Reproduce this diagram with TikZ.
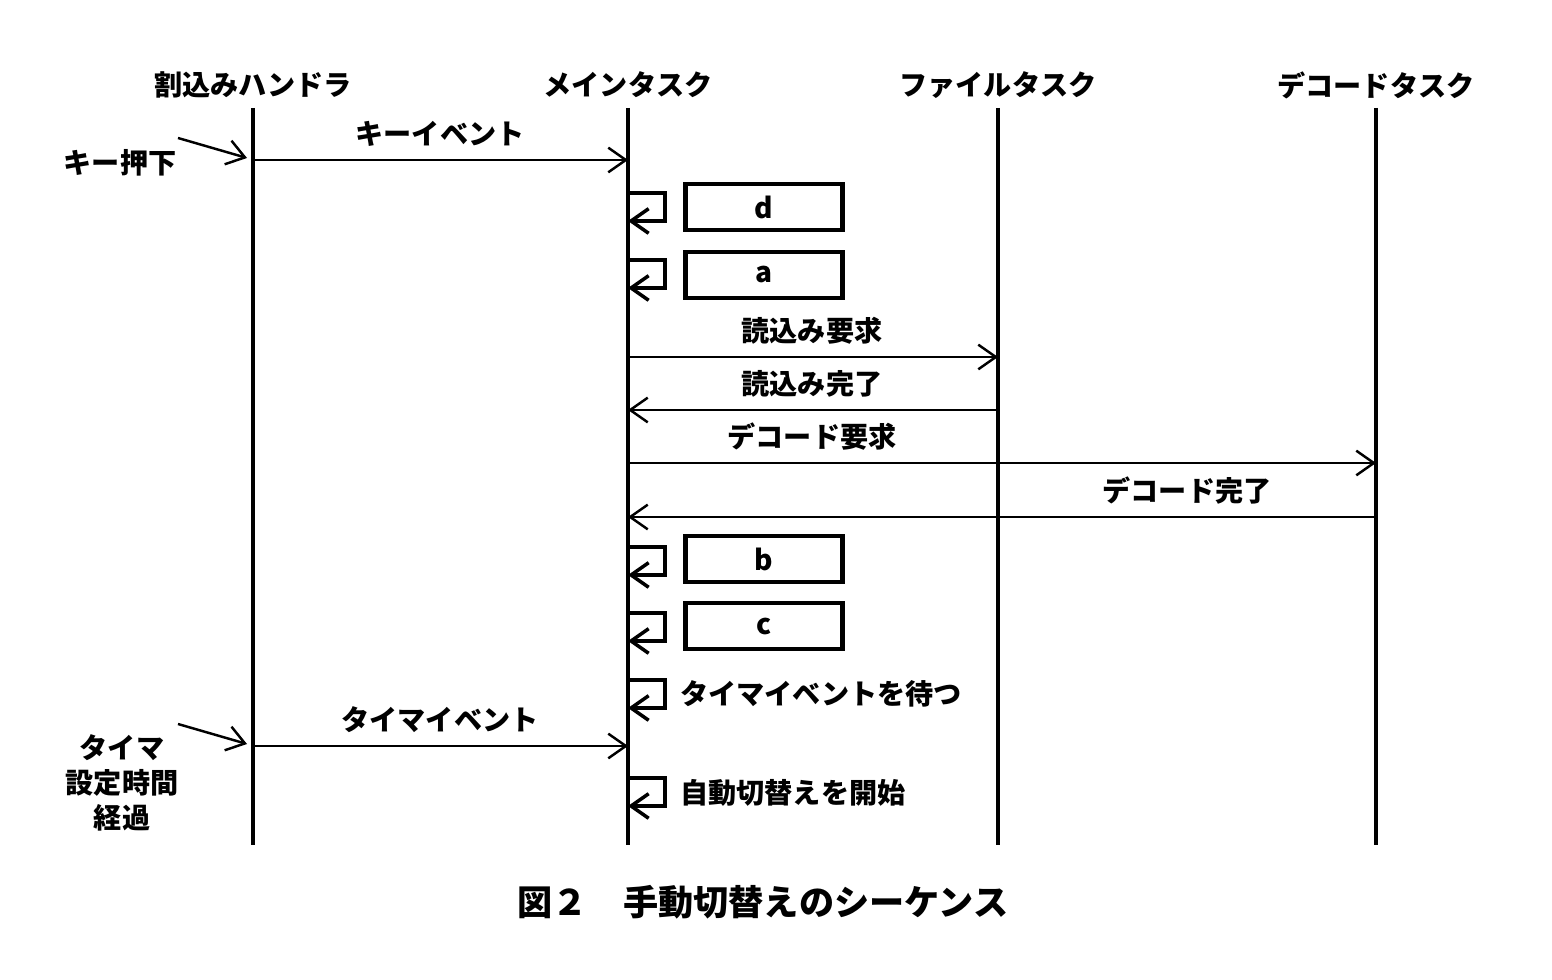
\documentclass[tikz,border=0pt]{standalone}
\usepackage{fontspec}
\setmainfont{Noto Sans CJK JP}
\usetikzlibrary{arrows.meta,calc}
\begin{document}
\begin{tikzpicture}[x=0.01cm,y=-0.01cm,
        lifeline/.style={line width=0.9pt},
        msg/.style={line width=0.7pt,-{Straight Barb[length=5pt,width=7pt]}},
        actbox/.style={draw,line width=1.2pt,minimum width=1.57cm,minimum height=0.46cm,font=\bfseries\fontsize{8}{10}\selectfont},
        lbl/.style={font=\fontsize{8}{10}\selectfont\bfseries}]
    \useasboundingbox (0,0) rectangle (1552,980);

    % lifelines
    \foreach \n/\x/\t in {hdl/253/割込みハンドラ, main/628/メインタスク, file/998/ファイルタスク, dec/1376/デコードタスク} {
        \node[lbl] (\n) at (\x,85) {\t};
        \coordinate (\n top) at (\x,108);
        \coordinate (\n bot) at (\x,845);
        \draw[lifeline] (\n top) -- (\n bot);
    }

    % external triggers
    \node[lbl] (key) at (120,163) {キー押下};
    \coordinate (key s) at (178,138);
    \coordinate (key e) at (247,158);
    \draw[msg] (key s) -- (key e);
    \node[lbl,align=center] (timer) at (122,783) {タイマ\\設定時間\\経過};
    \coordinate (timer s) at (178,724);
    \coordinate (timer e) at (247,744);
    \draw[msg] (timer s) -- (timer e);

    % messages
    \foreach \a/\b/\y/\lx/\t in {hdl/main/160/440/キーイベント,
                                 main/file/357/812/読込み要求,
                                 file/main/410/812/読込み完了,
                                 main/dec/463/812/デコード要求,
                                 dec/main/517/1187/デコード完了,
                                 hdl/main/746/440/タイマイベント} {
        \coordinate (m\y a) at (\a top |- 0,\y);
        \coordinate (m\y b) at (\b top |- 0,\y);
        \draw[msg] (m\y a) -- (m\y b);
        \node[lbl] (l\y) at (\lx,\y-26) {\t};
    }

    % self calls
    \foreach \y in {193,260,547,613,680,778} {
        \coordinate (s\y) at (628,\y);
        \coordinate (e\y) at (628,\y+28);
        \draw[line width=1pt,-{Straight Barb[length=5pt,width=7pt]}] (s\y) -| (665,\y+28) -- (e\y);
    }
    \node[actbox] (d) at (764,207) {d};
    \node[actbox] (a) at (764,275) {a};
    \node[actbox] (b) at (764,559) {b};
    \node[actbox] (c) at (764,626) {c};
    \node[lbl,anchor=west] (wait) at (668,694) {タイマイベントを待つ};
    \node[lbl,anchor=west] (auto) at (668,793) {自動切替えを開始};

    % caption
    \node[font=\bfseries\fontsize{10}{12}\selectfont] (cap) at (763,902) {図２　手動切替えのシーケンス};
\end{tikzpicture}
\end{document}
